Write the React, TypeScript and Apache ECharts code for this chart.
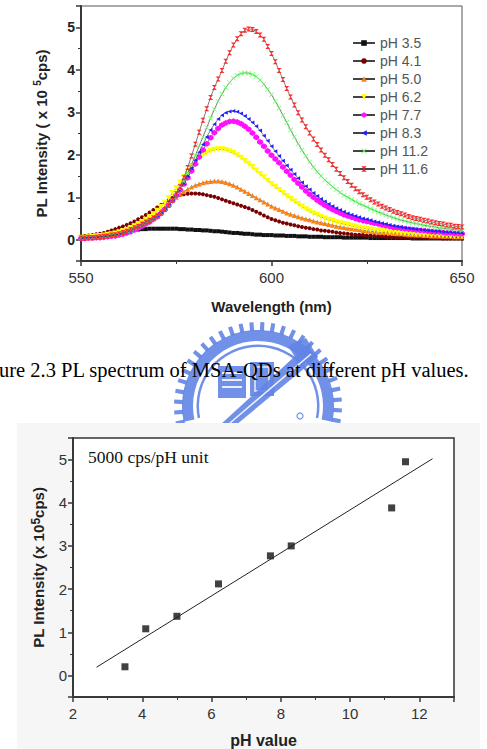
import React, { useEffect, useRef } from "react";
import * as echarts from "echarts";

// Emission spectra sampled every 1 nm from 550 to 650 nm (intensity in 1e5 cps)
const wavelengths = Array.from({ length: 101 }, (_, i) => 550 + i);

const ph35 = [
  0.06, 0.07, 0.08, 0.09, 0.1, 0.11, 0.12, 0.14, 0.15, 0.17,
  0.18, 0.2, 0.21, 0.22, 0.23, 0.24, 0.25, 0.25, 0.26, 0.26,
  0.26, 0.26, 0.26, 0.26, 0.26, 0.26, 0.25, 0.25, 0.24, 0.24,
  0.23, 0.23, 0.22, 0.22, 0.21, 0.2, 0.2, 0.19, 0.18, 0.17,
  0.16, 0.16, 0.15, 0.14, 0.14, 0.13, 0.12, 0.12, 0.11, 0.11,
  0.11, 0.1, 0.1, 0.1, 0.09, 0.09, 0.09, 0.08, 0.08, 0.08,
  0.07, 0.07, 0.07, 0.07, 0.06, 0.06, 0.06, 0.06, 0.06, 0.05,
  0.05, 0.05, 0.05, 0.05, 0.05, 0.05, 0.04, 0.04, 0.04, 0.04,
  0.04, 0.04, 0.04, 0.04, 0.04, 0.04, 0.04, 0.03, 0.03, 0.03,
  0.03, 0.03, 0.03, 0.03, 0.03, 0.03, 0.03, 0.03, 0.03, 0.03, 0.03,
];
const ph41 = [
  0.08, 0.09, 0.1, 0.11, 0.13, 0.14, 0.16, 0.19, 0.22, 0.25,
  0.28, 0.31, 0.35, 0.39, 0.43, 0.48, 0.53, 0.58, 0.64, 0.7,
  0.76, 0.82, 0.88, 0.93, 0.98, 1.02, 1.05, 1.07, 1.08, 1.09,
  1.09, 1.08, 1.07, 1.05, 1.03, 1.01, 0.98, 0.95, 0.92, 0.89,
  0.86, 0.83, 0.8, 0.77, 0.74, 0.7, 0.66, 0.62, 0.57, 0.53,
  0.49, 0.46, 0.43, 0.4, 0.38, 0.36, 0.34, 0.32, 0.3, 0.28,
  0.27, 0.25, 0.24, 0.22, 0.21, 0.2, 0.19, 0.17, 0.16, 0.15,
  0.14, 0.13, 0.12, 0.12, 0.11, 0.1, 0.1, 0.09, 0.08, 0.08,
  0.07, 0.07, 0.07, 0.06, 0.06, 0.06, 0.05, 0.05, 0.05, 0.05,
  0.04, 0.04, 0.04, 0.04, 0.04, 0.03, 0.03, 0.03, 0.03, 0.03, 0.03,
];
const ph50 = [
  0.05, 0.05, 0.06, 0.07, 0.08, 0.09, 0.1, 0.11, 0.13, 0.15,
  0.17, 0.19, 0.22, 0.25, 0.29, 0.33, 0.38, 0.43, 0.49, 0.55,
  0.62, 0.69, 0.77, 0.85, 0.93, 1.0, 1.07, 1.13, 1.19, 1.24,
  1.28, 1.31, 1.34, 1.36, 1.37, 1.38, 1.38, 1.37, 1.35, 1.32,
  1.28, 1.24, 1.19, 1.14, 1.09, 1.04, 0.99, 0.94, 0.89, 0.84,
  0.79, 0.75, 0.71, 0.67, 0.63, 0.6, 0.57, 0.54, 0.51, 0.49,
  0.47, 0.44, 0.42, 0.4, 0.38, 0.36, 0.34, 0.32, 0.3, 0.29,
  0.27, 0.26, 0.25, 0.24, 0.22, 0.21, 0.2, 0.19, 0.18, 0.17,
  0.17, 0.16, 0.15, 0.14, 0.14, 0.13, 0.12, 0.12, 0.11, 0.11,
  0.1, 0.1, 0.09, 0.09, 0.09, 0.08, 0.08, 0.08, 0.07, 0.07, 0.07,
];
const ph62 = [
  0.05, 0.05, 0.06, 0.07, 0.08, 0.09, 0.1, 0.12, 0.13, 0.15,
  0.17, 0.2, 0.23, 0.27, 0.31, 0.36, 0.41, 0.47, 0.53, 0.6,
  0.68, 0.77, 0.87, 0.98, 1.1, 1.22, 1.35, 1.48, 1.61, 1.73,
  1.83, 1.92, 1.99, 2.05, 2.09, 2.12, 2.13, 2.13, 2.11, 2.08,
  2.04, 1.99, 1.93, 1.86, 1.79, 1.71, 1.63, 1.55, 1.47, 1.39,
  1.31, 1.24, 1.17, 1.1, 1.03, 0.96, 0.9, 0.84, 0.78, 0.72,
  0.67, 0.62, 0.58, 0.54, 0.5, 0.47, 0.44, 0.41, 0.39, 0.37,
  0.35, 0.33, 0.31, 0.29, 0.27, 0.26, 0.24, 0.23, 0.22, 0.21,
  0.2, 0.19, 0.18, 0.17, 0.16, 0.15, 0.15, 0.14, 0.13, 0.13,
  0.12, 0.12, 0.11, 0.11, 0.1, 0.1, 0.1, 0.09, 0.09, 0.09, 0.08,
];
const ph77 = [
  0.03, 0.03, 0.04, 0.04, 0.05, 0.05, 0.06, 0.07, 0.08, 0.09,
  0.11, 0.13, 0.16, 0.19, 0.23, 0.27, 0.32, 0.37, 0.42, 0.48,
  0.54, 0.62, 0.71, 0.81, 0.92, 1.04, 1.17, 1.31, 1.46, 1.62,
  1.78, 1.95, 2.11, 2.26, 2.4, 2.52, 2.62, 2.7, 2.75, 2.78,
  2.79, 2.77, 2.73, 2.67, 2.6, 2.51, 2.41, 2.3, 2.2, 2.09,
  1.99, 1.9, 1.81, 1.71, 1.61, 1.52, 1.42, 1.33, 1.24, 1.15,
  1.07, 1.0, 0.93, 0.87, 0.81, 0.76, 0.71, 0.67, 0.63, 0.59,
  0.56, 0.53, 0.5, 0.47, 0.45, 0.43, 0.41, 0.39, 0.37, 0.35,
  0.33, 0.31, 0.29, 0.28, 0.27, 0.26, 0.25, 0.24, 0.23, 0.22,
  0.21, 0.2, 0.19, 0.18, 0.18, 0.17, 0.16, 0.16, 0.15, 0.15, 0.14,
];
const ph83 = [
  0.03, 0.04, 0.04, 0.05, 0.05, 0.06, 0.07, 0.08, 0.09, 0.1,
  0.12, 0.14, 0.17, 0.2, 0.24, 0.28, 0.33, 0.38, 0.43, 0.49,
  0.55, 0.63, 0.72, 0.82, 0.93, 1.05, 1.18, 1.33, 1.5, 1.68,
  1.87, 2.06, 2.24, 2.42, 2.58, 2.72, 2.84, 2.93, 2.99, 3.02,
  3.03, 3.01, 2.97, 2.91, 2.84, 2.76, 2.67, 2.57, 2.45, 2.33,
  2.2, 2.08, 1.97, 1.86, 1.75, 1.65, 1.55, 1.45, 1.35, 1.26,
  1.18, 1.1, 1.03, 0.96, 0.9, 0.84, 0.79, 0.74, 0.7, 0.66,
  0.62, 0.59, 0.56, 0.53, 0.5, 0.48, 0.46, 0.43, 0.41, 0.39,
  0.37, 0.35, 0.33, 0.31, 0.3, 0.28, 0.27, 0.26, 0.25, 0.24,
  0.23, 0.22, 0.21, 0.2, 0.2, 0.19, 0.18, 0.18, 0.17, 0.17, 0.16,
];
const ph112 = [
  0.04, 0.04, 0.05, 0.05, 0.06, 0.07, 0.08, 0.09, 0.1, 0.11,
  0.13, 0.15, 0.18, 0.21, 0.25, 0.29, 0.34, 0.39, 0.44, 0.49,
  0.55, 0.63, 0.72, 0.82, 0.93, 1.05, 1.2, 1.37, 1.56, 1.77,
  1.98, 2.2, 2.42, 2.64, 2.86, 3.07, 3.26, 3.43, 3.58, 3.7,
  3.8, 3.87, 3.91, 3.93, 3.92, 3.89, 3.84, 3.76, 3.66, 3.54,
  3.41, 3.26, 3.1, 2.93, 2.76, 2.58, 2.42, 2.26, 2.11, 1.97,
  1.83, 1.71, 1.6, 1.5, 1.41, 1.33, 1.25, 1.18, 1.11, 1.05,
  1.0, 0.95, 0.9, 0.85, 0.81, 0.77, 0.73, 0.69, 0.65, 0.62,
  0.58, 0.55, 0.52, 0.49, 0.46, 0.44, 0.42, 0.4, 0.38, 0.36,
  0.34, 0.33, 0.31, 0.3, 0.28, 0.27, 0.26, 0.25, 0.24, 0.23, 0.22,
];
const ph116 = [
  0.04, 0.04, 0.05, 0.05, 0.06, 0.07, 0.08, 0.09, 0.11, 0.12,
  0.14, 0.17, 0.2, 0.24, 0.28, 0.32, 0.37, 0.42, 0.46, 0.51,
  0.56, 0.63, 0.71, 0.81, 0.93, 1.08, 1.25, 1.46, 1.7, 1.97,
  2.25, 2.53, 2.81, 3.08, 3.35, 3.58, 3.78, 3.98, 4.2, 4.4,
  4.58, 4.73, 4.85, 4.93, 4.96, 4.95, 4.9, 4.82, 4.72, 4.55,
  4.38, 4.19, 3.98, 3.77, 3.56, 3.36, 3.17, 2.99, 2.82, 2.66,
  2.51, 2.37, 2.24, 2.11, 1.99, 1.88, 1.77, 1.66, 1.56, 1.46,
  1.37, 1.28, 1.2, 1.13, 1.06, 1.0, 0.94, 0.89, 0.84, 0.79,
  0.75, 0.71, 0.67, 0.64, 0.61, 0.58, 0.55, 0.52, 0.5, 0.48,
  0.46, 0.44, 0.42, 0.4, 0.38, 0.37, 0.35, 0.34, 0.32, 0.31, 0.3,
];

const spectrumNames = ["pH 3.5", "pH 4.1", "pH 5.0", "pH 6.2", "pH 7.7", "pH 8.3", "pH 11.2", "pH 11.6"];
const spectra = [ph35, ph41, ph50, ph62, ph77, ph83, ph112, ph116];
const spectrumColors = ["#111111", "#7a0000", "#ff7f10", "#ffff00", "#ff10ff", "#2020ff", "#66ff66", "#ff2a2a"];

// Peak intensity against pH, with its linear fit
const phValues = [3.5, 4.1, 5.0, 6.2, 7.7, 8.3, 11.2, 11.6];
const peakIntensity = [0.2, 1.08, 1.37, 2.12, 2.77, 3.0, 3.88, 4.95];
const fitX = [2.68, 12.38];
const fitY = [0.19, 5.02];

const SANS = '"Liberation Sans", Arial, sans-serif';
const SERIF = '"Liberation Serif", "Times New Roman", serif';
const AXIS = "#383838";

const markers: { symbol: string; size: number; rotate?: number }[] = [
  { symbol: "rect", size: 4 },
  { symbol: "circle", size: 4 },
  { symbol: "triangle", size: 5 },
  { symbol: "triangle", size: 6, rotate: 180 },
  { symbol: "path://M5,0L10,3L10,7L5,10L0,7L0,3Z", size: 6 },
  { symbol: "triangle", size: 4, rotate: 90 },
  { symbol: "path://M0,1L1,0L5,4L9,0L10,1L6,5L10,9L9,10L5,6L1,10L0,9L4,5Z", size: 5 },
  { symbol: "path://M0,0L10,0L5,5L10,10L0,10L5,5Z", size: 5 },
];

const intLabel = (v: number) => (Math.abs(v - Math.round(v)) < 1e-6 ? String(Math.round(v)) : "");
const evenLabel = (v: number) => (Math.round(v) % 2 === 0 ? String(Math.round(v)) : "");

function logoElements() {
  const cx = 258;
  const cy = 406;
  const blue = "rgba(98,132,228,0.9)";
  const els: any[] = [];
  for (let k = 0; k <= 27; k++) {
    const a = ((-192 + k * 7.5) * Math.PI) / 180;
    const h = 0.028;
    const pts = [
      [75, a - h],
      [84, a - h * 0.85],
      [84, a + h * 0.85],
      [75, a + h],
    ].map(([r, t]) => [cx + r * Math.cos(t), cy + r * Math.sin(t)]);
    els.push({ type: "polygon", z: -4, shape: { points: pts }, style: { fill: blue } });
  }
  els.push({
    type: "sector", z: -4,
    shape: { cx, cy, r0: 65, r: 76, startAngle: Math.PI - 0.21, endAngle: 2 * Math.PI + 0.21, clockwise: true },
    style: { fill: blue },
  });
  els.push({
    type: "sector", z: -4,
    shape: { cx, cy, r0: 59, r: 61.5, startAngle: Math.PI - 0.2, endAngle: 2 * Math.PI + 0.2, clockwise: true },
    style: { fill: blue },
  });
  els.push({ type: "rect", z: -4, shape: { x: 218, y: 366, width: 28, height: 32 }, style: { fill: blue } });
  [372, 379, 386].forEach((y) =>
    els.push({ type: "rect", z: -4, shape: { x: 222, y, width: 20, height: 2 }, style: { fill: "rgba(255,255,255,0.85)" } })
  );
  els.push({ type: "rect", z: -4, shape: { x: 250, y: 362, width: 24, height: 34 }, style: { fill: blue } });
  els.push({ type: "rect", z: -4, shape: { x: 255, y: 367, width: 14, height: 24 }, style: { fill: "none", stroke: "rgba(255,255,255,0.85)", lineWidth: 1.5 } });
  els.push({ type: "polygon", z: -4, shape: { points: [[220, 425], [236, 425], [318, 357], [306, 346]] }, style: { fill: blue } });
  els.push({ type: "polygon", z: -4, shape: { points: [[288, 346], [306, 338], [318, 357], [300, 365]] }, style: { fill: blue } });
  els.push({ type: "line", z: -4, shape: { x1: 230, y1: 423, x2: 311, y2: 354 }, style: { stroke: "rgba(255,255,255,0.9)", lineWidth: 1.5 } });
  els.push({ type: "circle", z: -4, shape: { cx: 300, cy: 416, r: 3 }, style: { fill: "none", stroke: blue, lineWidth: 1.2 } });
  return els;
}

export default function App() {
  const ref = useRef<HTMLDivElement>(null);

  useEffect(() => {
    const chart = echarts.init(ref.current!, null, { renderer: "svg" });

    const tick = { show: true, inside: false, length: 5, lineStyle: { color: AXIS, width: 1.5 } };
    const minor = { show: true, splitNumber: 2, length: 3, lineStyle: { color: AXIS, width: 1 } };
    const line = { show: true, onZero: false, lineStyle: { color: AXIS, width: 2 } };
    const nameRich = {
      sup: { fontSize: 10, fontWeight: "bold", fontFamily: SANS, color: "#222", verticalAlign: "top", lineHeight: 10 },
    };

    const spectrumSeries = spectra.map((vals, s) => ({
      name: spectrumNames[s],
      type: "line",
      xAxisIndex: 0,
      yAxisIndex: 0,
      data: wavelengths.map((w, i) => [w, vals[i]]),
      symbol: markers[s].symbol,
      symbolSize: markers[s].size,
      symbolRotate: markers[s].rotate ?? 0,
      showAllSymbol: true,
      itemStyle: { color: spectrumColors[s], borderWidth: 0 },
      lineStyle: { color: "#444", width: 0.7 },
      z: 2 + s * 0.01,
    }));

    chart.setOption({
      animation: false,
      backgroundColor: "#fff",
      grid: [
        { left: 81, right: 25, top: 6, bottom: 488, show: true, borderColor: "#555", borderWidth: 1 },
        { left: 73, right: 33, top: 438, bottom: 50, show: true, borderColor: "#333", borderWidth: 1.5, backgroundColor: "#fff" },
      ],
      legend: {
        data: spectrumNames,
        orient: "vertical",
        left: 347,
        top: 31,
        itemWidth: 22,
        itemHeight: 7,
        itemGap: 4,
        textStyle: { fontFamily: SANS, fontSize: 14, color: "#555", lineHeight: 14 },
      },
      xAxis: [
        {
          type: "value", gridIndex: 0, min: 550, max: 650, interval: 50,
          axisLine: line, axisTick: tick, minorTick: minor,
          splitLine: { show: false }, minorSplitLine: { show: false },
          axisLabel: { fontFamily: SANS, fontSize: 15, color: "#333", margin: 9 },
          name: "Wavelength (nm)", nameLocation: "middle", nameGap: 38,
          nameTextStyle: { fontFamily: SANS, fontSize: 15, fontWeight: "bold", color: "#222" },
        },
        {
          type: "value", gridIndex: 1, min: 2, max: 13, interval: 2,
          axisLine: line, axisTick: tick, minorTick: minor,
          splitLine: { show: false }, minorSplitLine: { show: false },
          axisLabel: { fontFamily: SANS, fontSize: 15, color: "#333", margin: 9, formatter: evenLabel },
          name: "pH value", nameLocation: "middle", nameGap: 35,
          nameTextStyle: { fontFamily: SANS, fontSize: 16, fontWeight: "bold", color: "#222" },
        },
      ],
      yAxis: [
        {
          type: "value", gridIndex: 0, min: -0.5, max: 5.5, splitNumber: 6,
          axisLine: line, axisTick: tick, minorTick: minor,
          splitLine: { show: false }, minorSplitLine: { show: false },
          axisLabel: { fontFamily: SANS, fontSize: 14, fontWeight: "bold", color: "#222", margin: 6, formatter: intLabel },
          name: "PL Intensity ( x 10 {sup|5}cps)", nameLocation: "middle", nameGap: 31,
          nameTextStyle: { fontFamily: SANS, fontSize: 15, fontWeight: "bold", color: "#222", lineHeight: 18, rich: nameRich },
        },
        {
          type: "value", gridIndex: 1, min: -0.5, max: 5.5, splitNumber: 6,
          axisLine: line, axisTick: tick, minorTick: minor,
          splitLine: { show: false }, minorSplitLine: { show: false },
          axisLabel: { fontFamily: SANS, fontSize: 15, color: "#333", margin: 6, formatter: intLabel },
          name: "PL Intensity (x 10{sup|5}cps)", nameLocation: "middle", nameGap: 25,
          nameTextStyle: {
            fontFamily: SANS, fontSize: 15, fontWeight: "bold", color: "#222", lineHeight: 18,
            rich: { sup: { ...nameRich.sup, fontSize: 12, lineHeight: 12 } },
          },
        },
      ],
      series: [
        ...spectrumSeries,
        {
          type: "line",
          xAxisIndex: 1,
          yAxisIndex: 1,
          data: fitX.map((x, i) => [x, fitY[i]]),
          symbol: "none",
          lineStyle: { color: "#222", width: 1 },
        },
        {
          type: "scatter",
          xAxisIndex: 1,
          yAxisIndex: 1,
          data: phValues.map((p, i) => [p, peakIntensity[i]]),
          symbol: "rect",
          symbolSize: 7,
          itemStyle: { color: "#111" },
        },
      ],
      graphic: [
        ...logoElements(),
        { type: "rect", z: -3, shape: { x: 17, y: 423, width: 463, height: 326 }, style: { fill: "#f6f6f6" } },
        {
          type: "text", z: 10, x: -1, y: 370,
          style: {
            text: "ure 2.3 PL spectrum of MSA-QDs at different pH values.",
            font: `20.5px ${SERIF}`, fill: "#000", verticalAlign: "middle", align: "left",
          },
        },
        {
          type: "text", z: 10, x: 88, y: 457,
          style: { text: "5000 cps/pH unit", font: `17.5px ${SERIF}`, fill: "#111", verticalAlign: "middle", align: "left" },
        },
      ],
    });

    return () => chart.dispose();
  }, []);

  return <div ref={ref} style={{ position: "absolute", left: 0, top: 0, width: 487, height: 749 }} />;
}
